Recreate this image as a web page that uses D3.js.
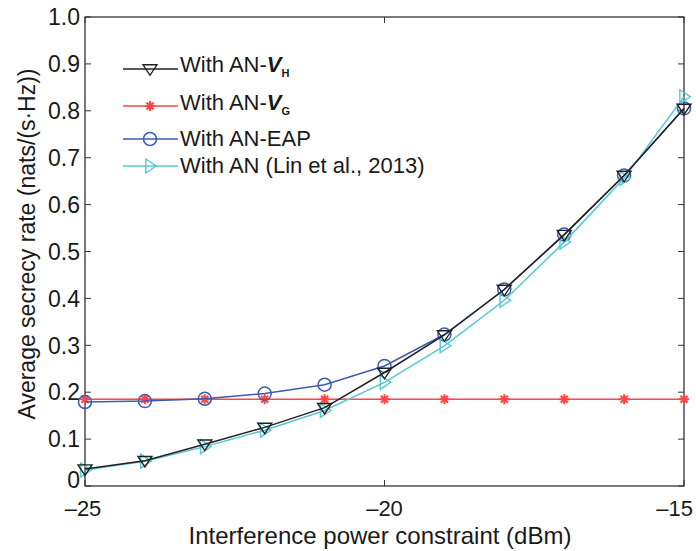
<!DOCTYPE html>
<html><head><meta charset="utf-8">
<script src="https://cdn.jsdelivr.net/npm/d3@7"></script>
<style>body{margin:0;background:#fff}svg{font-family:"Liberation Sans",Arial,sans-serif}</style>
</head><body>
<svg id="c" width="696" height="551"></svg>
<script>
const xValues = [-25,-24,-23,-22,-21,-20,-19,-18,-17,-16,-15];
const seriesVH  = [0.036,0.054,0.089,0.125,0.167,0.242,0.322,0.419,0.536,0.662,0.805];
const seriesVG  = [0.185,0.185,0.185,0.185,0.185,0.185,0.185,0.185,0.185,0.185,0.185];
const seriesEAP = [0.179,0.181,0.186,0.197,0.216,0.256,0.323,0.419,0.536,0.662,0.805];
const seriesLin = [0.034,0.053,0.084,0.119,0.161,0.221,0.299,0.396,0.520,0.656,0.830];
const xTicks = [-25,-20,-15];
const yTicks = [0,0.1,0.2,0.3,0.4,0.5,0.6,0.7,0.8,0.9,1.0];
const seriesNames = ["VH","VG","EAP","Lin"];

const svg = d3.select("#c");
const L=85, R=684, T=17, B=486;
const x = d3.scaleLinear().domain([-25,-15]).range([L,R]);
const y = d3.scaleLinear().domain([0,1]).range([B,T]);
const ink = "#1a1a1a";

svg.append("rect").attr("x",L).attr("y",T).attr("width",R-L).attr("height",B-T)
  .attr("fill","none").attr("stroke","#333").attr("stroke-width",1.3);

const tl=6;
yTicks.forEach(v=>{
  svg.append("line").attr("x1",L).attr("x2",L+tl).attr("y1",y(v)).attr("y2",y(v)).attr("stroke","#333");
  svg.append("line").attr("x1",R).attr("x2",R-tl).attr("y1",y(v)).attr("y2",y(v)).attr("stroke","#333");
  svg.append("text").attr("x",L-5).attr("y",y(v)).attr("dy",v===0?"0.1em":"0.36em").attr("text-anchor","end")
    .attr("font-size",23).attr("fill",ink).text(v===0?"0":v.toFixed(1));
});
xTicks.forEach((v,i)=>{
  svg.append("line").attr("x1",x(v)).attr("x2",x(v)).attr("y1",B).attr("y2",B-tl).attr("stroke","#333");
  svg.append("line").attr("x1",x(v)).attr("x2",x(v)).attr("y1",T).attr("y2",T+tl).attr("stroke","#333");
  const last = i===xTicks.length-1;
  svg.append("text").attr("x",last?693:(i===0?x(v)-2:x(v))).attr("y",516)
    .attr("text-anchor",last?"end":"middle")
    .attr("font-size",22).attr("fill",ink).text("\u2013"+Math.abs(v));
});

svg.append("text").attr("x",380).attr("y",544).attr("text-anchor","middle").attr("font-size",24).attr("fill",ink)
  .text("Interference power constraint (dBm)");
svg.append("text").attr("transform","translate(35,244) rotate(-90)").attr("text-anchor","middle").attr("font-size",23).attr("fill",ink)
  .text("Average secrecy rate (nats/(s\u00B7Hz))");

const styles = {
  VH:{data:seriesVH,color:"#222222",marker:"tridown"},
  VG:{data:seriesVG,color:"#ff4545",marker:"star"},
  EAP:{data:seriesEAP,color:"#3a5bb0",marker:"circle"},
  Lin:{data:seriesLin,color:"#55c8d2",marker:"triright"}
};
const line = d3.line().x((d,i)=>x(xValues[i])).y(d=>y(d));

function marker(g,type,cx,cy,color){
  if(type==="circle"){
    g.append("circle").attr("cx",cx).attr("cy",cy).attr("r",6.5).attr("fill","none").attr("stroke",color).attr("stroke-width",1.5);
  } else if(type==="tridown"){
    const s=7;
    g.append("path").attr("d",`M${cx-s},${cy-s*0.6}L${cx+s},${cy-s*0.6}L${cx},${cy+s*0.9}Z`).attr("fill","none").attr("stroke",color).attr("stroke-width",1.4);
  } else if(type==="triright"){
    const s=7;
    g.append("path").attr("d",`M${cx-s*0.6},${cy-s}L${cx-s*0.6},${cy+s}L${cx+s*0.9},${cy}Z`).attr("fill","none").attr("stroke",color).attr("stroke-width",1.4);
  } else if(type==="star"){
    const s=5;
    [0,45,90,135].forEach(a=>{
      const r=a*Math.PI/180;
      g.append("line").attr("x1",cx-s*Math.cos(r)).attr("y1",cy-s*Math.sin(r)).attr("x2",cx+s*Math.cos(r)).attr("y2",cy+s*Math.sin(r))
       .attr("stroke",color).attr("stroke-width",2);
    });
  }
}

const order=["VG","EAP","Lin","VH"];
order.forEach(k=>{
  const st=styles[k];
  const g=svg.append("g");
  g.append("path").attr("d",line(st.data)).attr("fill","none").attr("stroke",st.color).attr("stroke-width",1.5);
  st.data.forEach((d,i)=>marker(g,st.marker,x(xValues[i]),y(d),st.color));
});

const legLineY=[69,106,139,166];
const legTextY=[72,110,146,173];
const legendLabels = [
  {k:"VH",parts:[["With AN-",""],["V","bi"],["H","sub"]]},
  {k:"VG",parts:[["With AN-",""],["V","bi"],["G","sub"]]},
  {k:"EAP",parts:[["With AN-EAP",""]]},
  {k:"Lin",parts:[["With AN (Lin et al., 2013)",""]]}
];
legendLabels.forEach((lg,i)=>{
  const st=styles[lg.k];
  const g=svg.append("g");
  g.append("line").attr("x1",123).attr("x2",178).attr("y1",legLineY[i]).attr("y2",legLineY[i]).attr("stroke",st.color).attr("stroke-width",1.5);
  marker(g,st.marker,150,legLineY[i],st.color);
  const t=g.append("text").attr("x",180).attr("y",legTextY[i]).attr("font-size",22).attr("fill",ink);
  lg.parts.forEach(p=>{
    const ts=t.append("tspan").text(p[0]);
    if(p[1]==="bi") ts.attr("font-weight","bold").attr("font-style","italic");
    if(p[1]==="sub") ts.attr("font-size",11).attr("font-weight","bold").attr("dy",5);
  });
});
</script>
</body></html>
